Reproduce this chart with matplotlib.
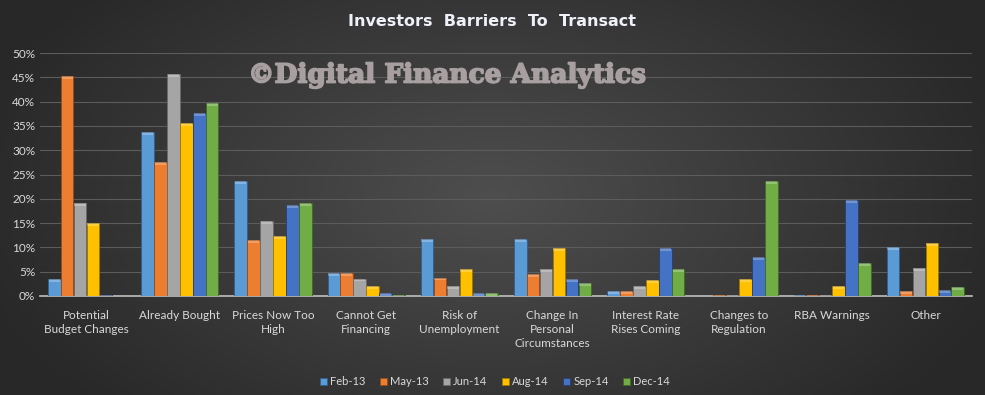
import numpy as np
import matplotlib.pyplot as plt
import matplotlib.patheffects as pe
from matplotlib.colors import LinearSegmentedColormap
from matplotlib.ticker import PercentFormatter

categories = ["Potential\nBudget Changes", "Already Bought", "Prices Now Too\nHigh",
              "Cannot Get\nFinancing", "Risk of\nUnemployment",
              "Change In\nPersonal\nCircumstances", "Interest Rate\nRises Coming",
              "Changes to\nRegulation", "RBA Warnings", "Other"]
series = ["Feb-13", "May-13", "Jun-14", "Aug-14", "Sep-14", "Dec-14"]

feb13 = [3.4, 33.7, 23.6, 4.7, 11.7, 11.7, 1.1, 0.1, 0.2, 10.0]
may13 = [45.3, 27.5, 11.5, 4.7, 3.8, 4.5, 1.1, 0.2, 0.2, 1.0]
jun14 = [19.2, 45.7, 15.4, 3.6, 2.1, 5.5, 2.1, 0.2, 0.2, 5.7]
aug14 = [15.0, 35.5, 12.4, 2.1, 5.5, 9.8, 3.3, 3.4, 2.1, 10.9]
sep14 = [0.2, 37.6, 18.7, 0.7, 0.7, 3.4, 9.8, 8.0, 19.7, 1.2]
dec14 = [0.0, 39.7, 19.2, 0.3, 0.7, 2.6, 5.5, 23.6, 6.7, 1.8]

colors = ["#5B9BD5", "#ED7D31", "#A5A5A5", "#FFC000", "#4472C4", "#70AD47"]
edges = ["#2f5f8f", "#9a4a12", "#6a6a6a", "#a07800", "#263f70", "#3f6a22"]

plt.rcParams['font.family'] = ['Lato', 'DejaVu Sans']
txt = "#d9d9d9"

fig = plt.figure(figsize=(9.85, 3.95), dpi=100)

# dark radial background
bg = fig.add_axes([0, 0, 1, 1], zorder=-10)
yy, xx = np.mgrid[-1:1:200j, -1:1:500j]
r = np.sqrt(xx ** 2 + (yy * 0.7) ** 2)
bg.imshow(r, cmap=LinearSegmentedColormap.from_list("bg", ["#4e4e4e", "#282828"]),
          aspect="auto", extent=[0, 1, 0, 1], vmin=0, vmax=1.1)
bg.axis("off")

ax = fig.add_axes([40 / 985, 99 / 395, 932 / 985, 243 / 395])
ax.set_facecolor("none")

data = [feb13, may13, jun14, aug14, sep14, dec14]
x = np.arange(len(categories))
w = 0.135
for i, (vals, name) in enumerate(zip(data, series)):
    pos = x + (i - 2.5) * (w + 0.004)
    ax.bar(pos, vals, w, color=colors[i], edgecolor=edges[i], linewidth=0.6,
           label=name, zorder=3)
    # lighter top highlight
    ax.bar(pos, [min(v, 0.6) for v in vals], w * 0.9, bottom=[v - min(v, 0.6) for v in vals],
           color="white", alpha=0.25, linewidth=0, zorder=4)

ax.set_xlim(-0.5, len(categories) - 0.5)
ax.set_ylim(0, 50)
ax.set_yticks(np.arange(0, 51, 5))
ax.yaxis.set_major_formatter(PercentFormatter(decimals=0))
ax.grid(axis="y", color="#5c5c5c", linewidth=0.8, zorder=0)
for s in ["top", "right", "left"]:
    ax.spines[s].set_visible(False)
ax.spines["bottom"].set_color("#bfbfbf")
ax.spines["bottom"].set_linewidth(1.2)
ax.tick_params(axis="both", length=0, colors=txt, labelsize=8.5)
ax.tick_params(axis="x", pad=10)
ax.set_xticks(x)
ax.set_xticklabels(categories, va="top", linespacing=1.35)

fig.text(492 / 985, 0.945, "Investors  Barriers  To  Transact", ha="center", va="center",
         color="#eef2f8", fontsize=11.5, fontweight="bold", family=["DejaVu Sans"])
fig.text(447 / 985, 0.81, "\u00a9Digital Finance Analytics", ha="center", va="center",
         color="#a8a0a0", fontsize=19, fontweight="bold", family=["DejaVu Serif"], zorder=5,
         path_effects=[pe.withStroke(linewidth=1.2, foreground="#a8a0a0")])

ax.legend(loc="upper center", bbox_to_anchor=(455 / 932, -0.29), ncol=6, frameon=False,
          fontsize=8, labelcolor=txt, handlelength=0.6, handleheight=0.6,
          handletextpad=0.3, columnspacing=1.3)

fig.savefig("out.png", dpi=100)
